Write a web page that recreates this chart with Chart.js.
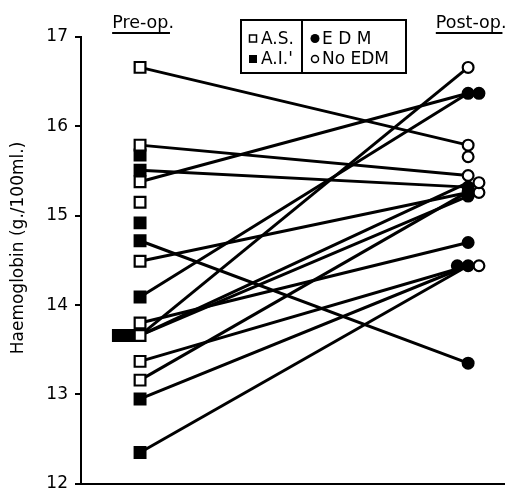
<!DOCTYPE html>
<html><head><meta charset="utf-8">
<script src="https://cdn.jsdelivr.net/npm/chart.js@4/dist/chart.umd.min.js"></script>
<style>html,body{margin:0;padding:0;background:#fff;overflow:hidden;width:505px;height:490px}canvas{display:block}</style>
</head><body><canvas id="c" width="515" height="501" style="width:515px;height:501px"></canvas>
<script>
// ---- text ----
const columnLabels = ['Pre-op.', 'Post-op.'];
const yTitle = 'Haemoglobin (g./100ml.)';
const yTickValues = [12, 13, 14, 15, 16, 17];
const valveLabels = ['A.S.', "A.I.'"];
const edmLabels = ['E D M', 'No EDM'];

// ---- data: one entry per patient ----
const preOp  = [16.66, 15.79, 15.68, 15.51, 15.38, 15.15, 14.92, 14.72, 14.49, 14.09, 13.80, 13.66, 13.66, 13.66, 13.37, 13.16, 12.95, 12.35, null];
const valve  = ['AS','AS','AI','AI','AS','AS','AI','AI','AS','AI','AS','AS','AI','AI','AS','AS','AI','AI', null];
const postOp = [15.79, 15.45, null, 15.32, 16.37, null, null, 13.35, 15.26, 16.37, 14.70, 16.66, 15.22, 15.37, 14.44, 15.27, 14.44, 14.44, 15.66];
const edm    = [false, false, null, true, true, null, null, true, false, true, true, false, true, false, true, true, false, true, false];

// ---- layout helpers (not data) ----
const SLOT = 0.033;
function placeColumn(values, styles, slots) {
  const placed = [];
  const out = [];
  values.forEach((v, i) => {
    if (v === null) { out.push(null); return; }
    let chosen = slots[slots.length - 1];
    for (const s of slots) {
      const clash = placed.some(p => p.slot === s && Math.abs(p.v - v) < 0.1 &&
        (p.style !== styles[i] || Math.abs(p.v - v) < 0.005));
      if (!clash) { chosen = s; break; }
    }
    placed.push({v, slot: chosen, style: styles[i]});
    out.push(chosen * SLOT);
  });
  return out;
}
const preShift = placeColumn(preOp, valve, [0, -1, -2, -3]);
const postShift = placeColumn(postOp, edm, [0, 1, -1, 2]);

const preAS = [], preAI = [], postEDM = [], postNo = [];
preOp.forEach((v, i) => {
  if (v === null) return;
  (valve[i] === 'AS' ? preAS : preAI).push({x: preShift[i], y: v});
});
postOp.forEach((v, i) => {
  if (v === null) return;
  (edm[i] ? postEDM : postNo).push({x: 1 + postShift[i], y: v});
});

const lineSets = [];
preOp.forEach((v, i) => {
  if (v === null || postOp[i] === null) return;
  lineSets.push({
    type: 'scatter', showLine: true, data: [{x: 0, y: v}, {x: 1, y: postOp[i]}],
    borderColor: '#000', borderWidth: 3, pointRadius: 0, order: 2
  });
});

const markerSets = [
  {data: preAS, pointStyle: 'rect', pointRadius: 7.6, backgroundColor: '#fff', borderColor: '#000', borderWidth: 2.2, order: 0},
  {data: preAI, pointStyle: 'rect', pointRadius: 7.6, backgroundColor: '#000', borderColor: '#000', borderWidth: 2.2, order: 0},
  {data: postEDM, pointStyle: 'circle', pointRadius: 5.4, backgroundColor: '#000', borderColor: '#000', borderWidth: 2.2, order: 0},
  {data: postNo, pointStyle: 'circle', pointRadius: 5.4, backgroundColor: '#fff', borderColor: '#000', borderWidth: 2.2, order: 0}
].map(d => Object.assign({type: 'scatter', showLine: false}, d));

const FONT = '"DejaVu Sans", sans-serif';

const decor = {
  id: 'decor',
  afterDraw(chart) {
    const ctx = chart.ctx;
    const xs = chart.scales.x;
    ctx.save();
    ctx.fillStyle = '#000';
    ctx.strokeStyle = '#000';
    // column headings
    ctx.font = '17.5px ' + FONT;
    ctx.textAlign = 'center';
    ctx.textBaseline = 'alphabetic';
    [0, 1].forEach((v, i) => {
      const cx = xs.getPixelForValue(v) + 3;
      ctx.fillText(columnLabels[i], cx, 28);
      const w = ctx.measureText(columnLabels[i]).width;
      ctx.lineWidth = 2;
      ctx.beginPath();
      ctx.moveTo(cx - w / 2, 33);
      ctx.lineTo(cx + w / 2 - 4, 33);
      ctx.stroke();
    });
    // y title
    ctx.save();
    ctx.translate(19, 248);
    ctx.rotate(-Math.PI / 2);
    ctx.font = '17px ' + FONT;
    ctx.textAlign = 'center';
    ctx.textBaseline = 'middle';
    ctx.fillText(yTitle, 0, 0);
    ctx.restore();
    // legend box
    ctx.lineWidth = 2;
    ctx.strokeRect(241, 20, 165, 53);
    ctx.beginPath();
    ctx.moveTo(302, 20);
    ctx.lineTo(302, 73);
    ctx.stroke();
    ctx.font = '17px ' + FONT;
    ctx.textAlign = 'left';
    ctx.textBaseline = 'middle';
    const rows = [38.5, 59];
    // valve column
    ctx.lineWidth = 1.5;
    ctx.strokeRect(249.5, rows[0] - 3.5, 7, 7);
    ctx.fillRect(249, rows[1] - 4, 8, 8);
    ctx.fillText(valveLabels[0], 261, rows[0] + 1);
    ctx.fillText(valveLabels[1], 261, rows[1] + 1);
    // EDM column
    ctx.beginPath();
    ctx.arc(315, rows[0], 4.5, 0, Math.PI * 2);
    ctx.fill();
    ctx.beginPath();
    ctx.arc(315, rows[1], 3.5, 0, Math.PI * 2);
    ctx.lineWidth = 1.5;
    ctx.stroke();
    ctx.fillText(edmLabels[0], 322, rows[0] + 1);
    ctx.fillText(edmLabels[1], 322, rows[1] + 1);
    ctx.restore();
  }
};

new Chart(document.getElementById('c'), {
  type: 'scatter',
  data: {datasets: markerSets.concat(lineSets)},
  options: {
    responsive: false, animation: false,
    layout: {padding: {left: 0, right: 0, top: 37, bottom: 0}},
    plugins: {legend: {display: false}, tooltip: {enabled: false}},
    scales: {
      x: {
        type: 'linear', min: -0.18, max: 1.113,
        ticks: {display: false},
        grid: {display: false, drawTicks: false},
        border: {display: true, color: '#000', width: 2},
        afterFit(s) { s.height = 6; }
      },
      y: {
        type: 'linear', min: 12, max: 17,
        afterBuildTicks(s) { s.ticks = yTickValues.map(v => ({value: v})); },
        ticks: {color: '#000', font: {family: FONT, size: 17}, padding: 7},
        grid: {display: true, drawOnChartArea: false, drawTicks: true, tickLength: 6, color: '#000', lineWidth: 2},
        border: {display: true, color: '#000', width: 2},
        afterFit(s) { s.width = 81; }
      }
    }
  },
  plugins: [decor]
});
</script>
</body></html>
